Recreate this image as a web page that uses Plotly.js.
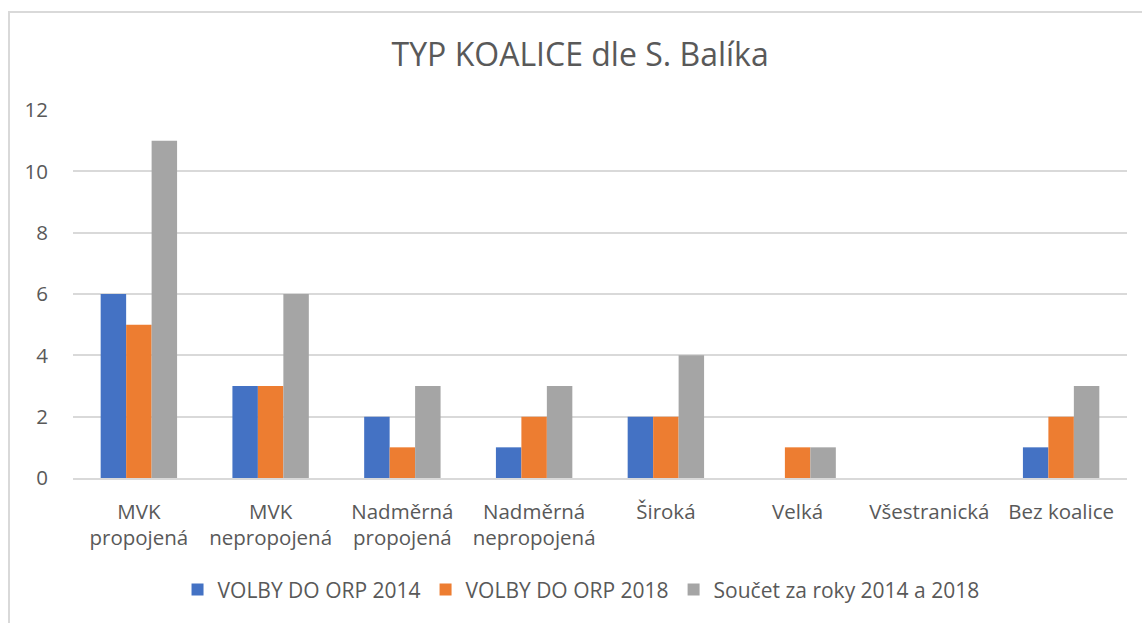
<!DOCTYPE html>
<html>
<head>
<meta charset="utf-8">
<script src="https://cdn.plot.ly/plotly-3.0.1.min.js"></script>
<style>
  html, body { margin: 0; padding: 0; background: #fff; }
  #frame { position: absolute; left: 8px; top: 11px; width: 1140px; height: 620px; border-left: 2px solid #d9d9d9; border-top: 2px solid #d9d9d9; box-sizing: border-box; pointer-events: none; z-index: 10; }
  #chart { width: 1142px; height: 623px; }
</style>
</head>
<body>
<div id="chart"></div>
<div id="frame"></div>
<script>
const categories = ["MVK<br>propojená", "MVK<br>nepropojená", "Nadměrná<br>propojená", "Nadměrná<br>nepropojená", "Široká", "Velká", "Všestranická", "Bez koalice"];
const seriesNames = ["VOLBY DO ORP 2014", "VOLBY DO ORP 2018", "Součet za roky 2014 a 2018"];
const volby2014 = [6, 3, 2, 1, 2, 0, 0, 1];
const volby2018 = [5, 3, 1, 2, 2, 1, 0, 2];
const soucet = [11, 6, 3, 3, 4, 1, 0, 3];
const colors = ["#4472C4", "#ED7D31", "#A5A5A5"];
const yTicks = [0, 2, 4, 6, 8, 10, 12];

const fontFam = "Open Sans, sans-serif";
const txt = "#595959";

const data = [volby2014, volby2018, soucet].map((vals, i) => ({
  type: "bar",
  name: seriesNames[i],
  x: categories,
  y: vals,
  marker: { color: colors[i] },
  hoverinfo: "x+y+name"
}));

const layout = {
  width: 1142,
  height: 623,
  paper_bgcolor: "#fff",
  plot_bgcolor: "#fff",
  margin: { l: 73, r: 15, t: 110, b: 145 },
  barmode: "group",
  bargap: 0.42,
  bargroupgap: 0,
  font: { family: fontFam, color: txt, size: 20 },
  title: {
    text: "TYP KOALICE dle S. Balíka",
    font: { family: fontFam, size: 32, color: txt },
    x: 0.508, xanchor: "center", xref: "container",
    y: 0.912, yanchor: "middle", yref: "container"
  },
  xaxis: {
    type: "category",
    tickfont: { family: fontFam, size: 20.5, color: txt },
    showgrid: false,
    showline: true,
    linecolor: "#d9d9d9",
    linewidth: 2,
    ticks: "outside",
    ticklen: 14,
    tickcolor: "rgba(0,0,0,0)",
    zeroline: false
  },
  yaxis: {
    range: [0, 12],
    tickvals: yTicks,
    ticktext: yTicks.map(String),
    tickfont: { family: fontFam, size: 20.5, color: txt },
    showgrid: true,
    gridcolor: "#d9d9d9",
    gridwidth: 1.5,
    zeroline: false,
    showline: false,
    ticks: "outside",
    ticklen: 20,
    tickcolor: "rgba(0,0,0,0)"
  },
  showlegend: true,
  legend: {
    orientation: "h",
    x: 0.482, xanchor: "center",
    y: -0.304, yanchor: "middle",
    font: { family: fontFam, size: 21, color: txt },
    itemwidth: 30,
    traceorder: "normal"
  }
};

Plotly.newPlot("chart", data, layout, { displayModeBar: false, staticPlot: false });
</script>
</body>
</html>
